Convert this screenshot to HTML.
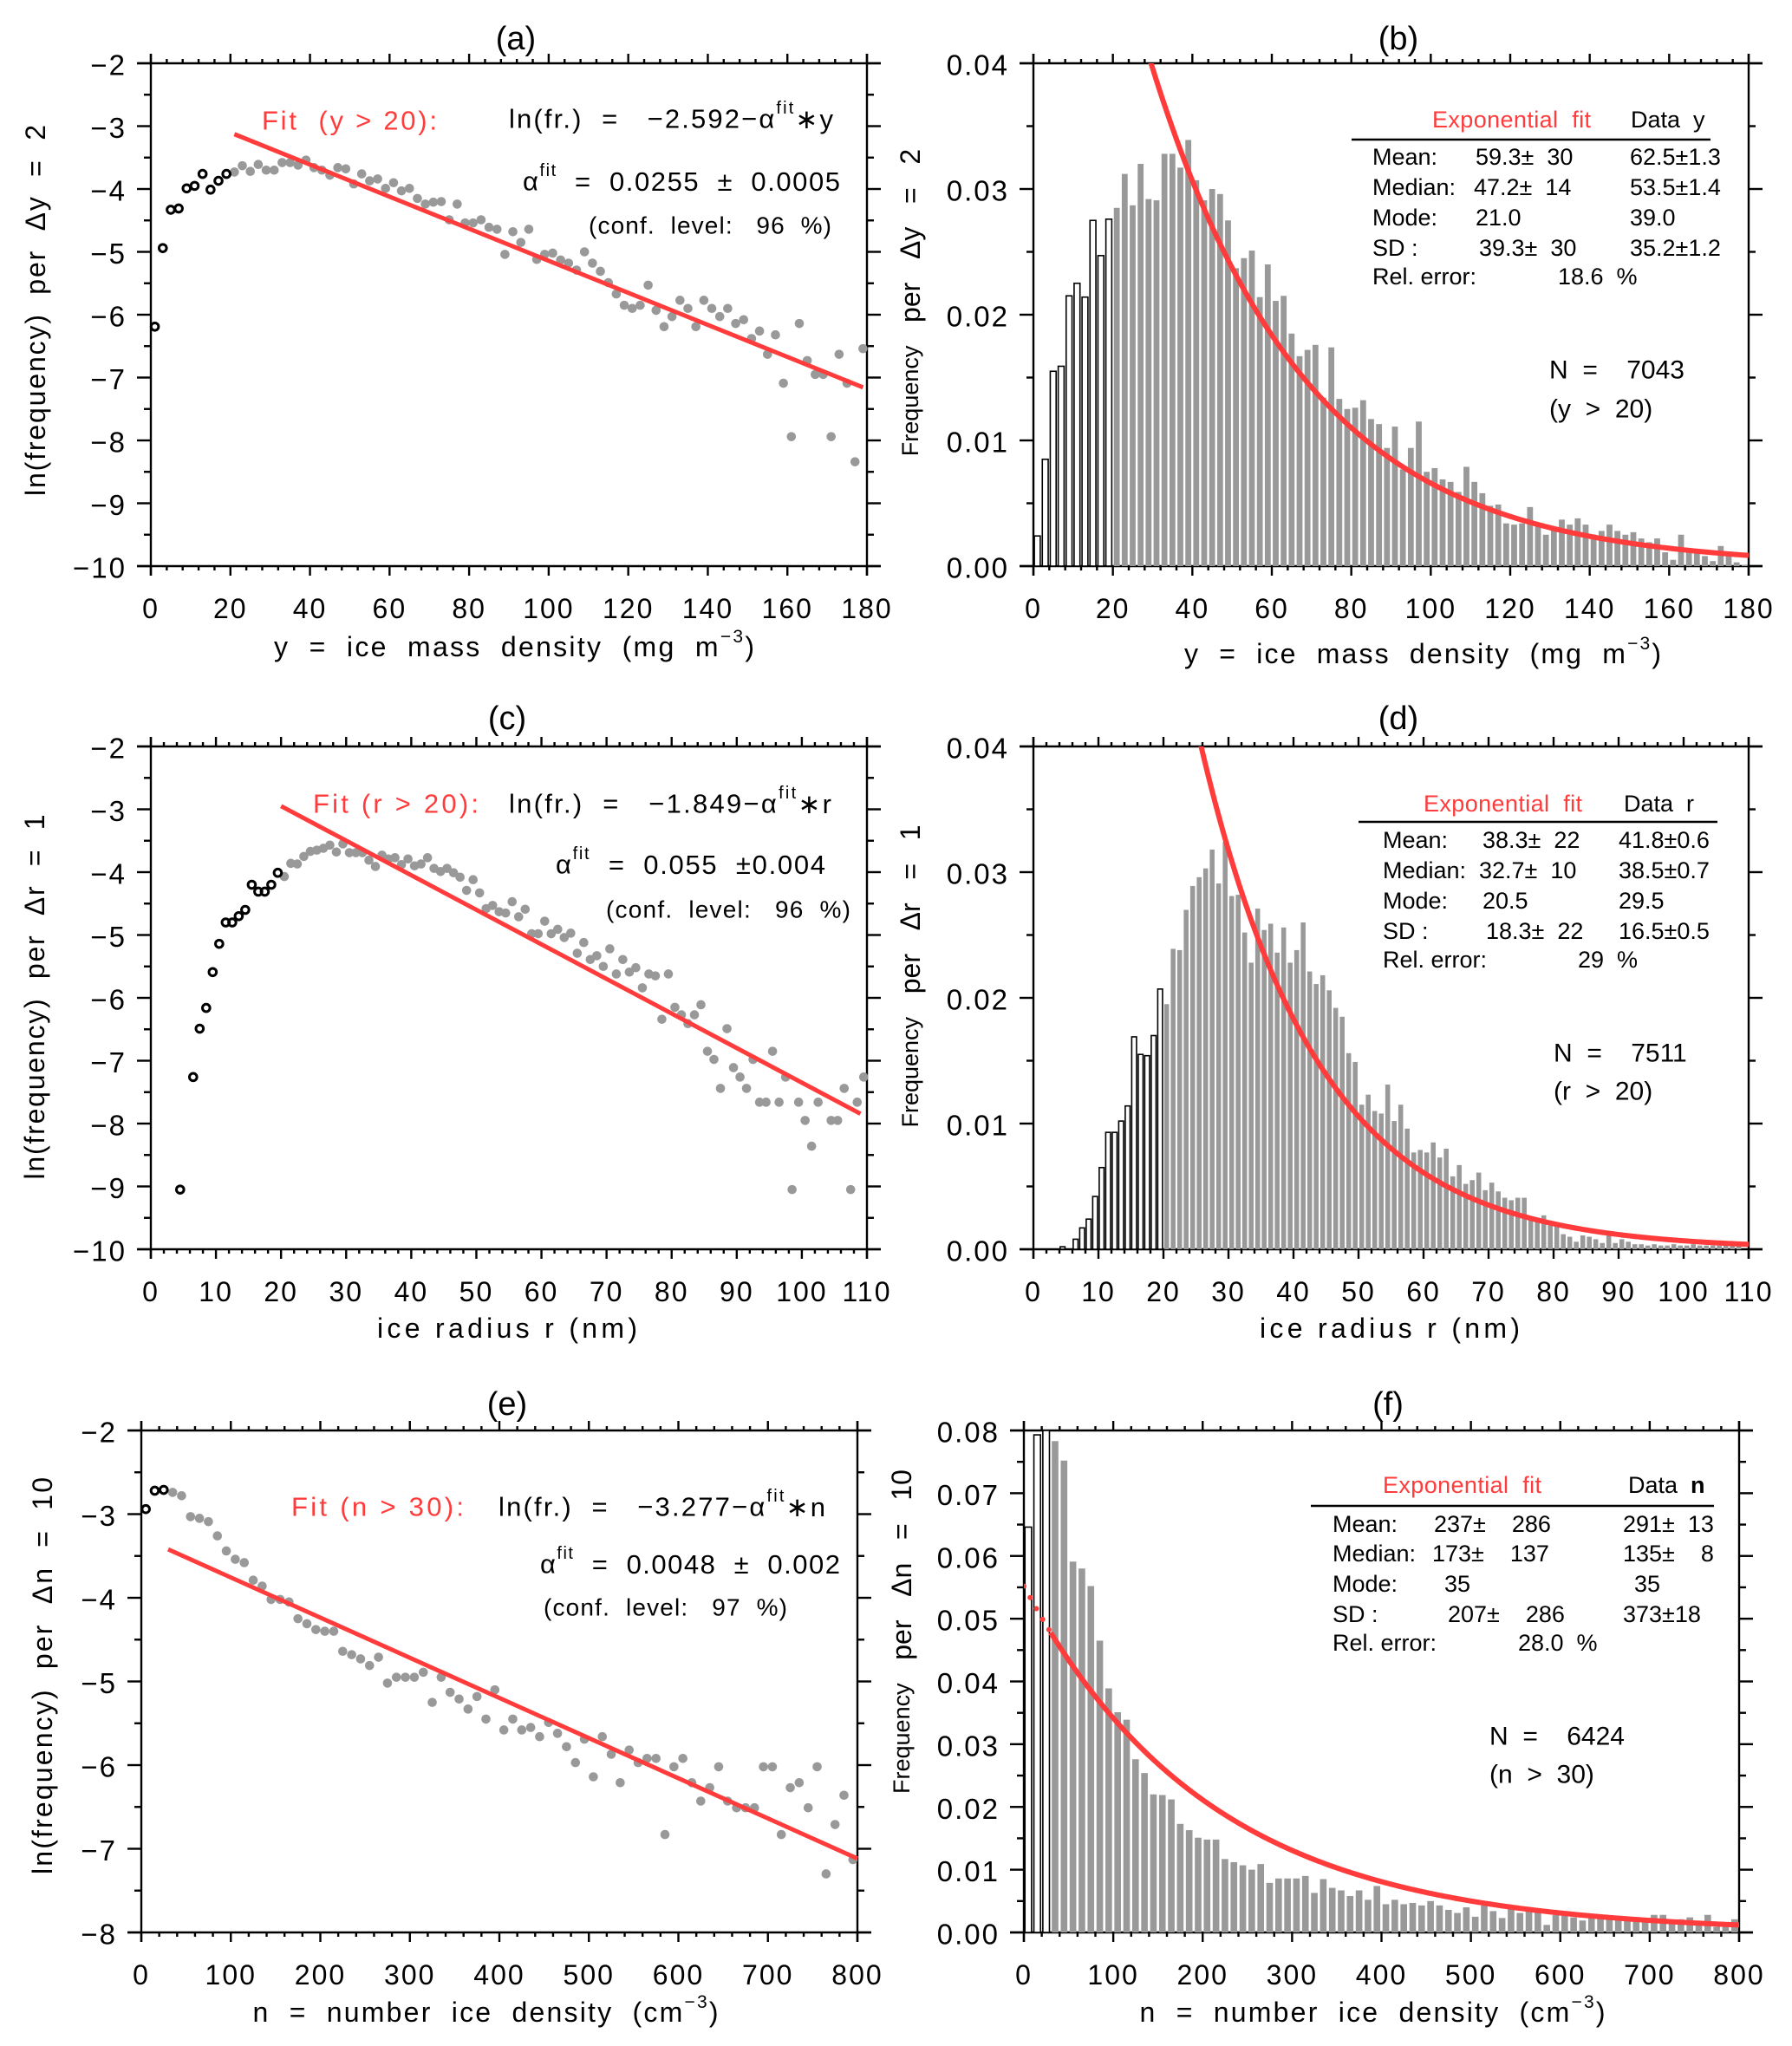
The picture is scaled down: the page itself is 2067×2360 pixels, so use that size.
<!DOCTYPE html>
<html><head><meta charset="utf-8">
<style>
html,body{margin:0;padding:0;background:#fff;}
svg{display:block;}
text{font-family:"Liberation Sans",sans-serif;fill:#000;white-space:pre;}
.red{fill:#ff3b3b;}
</style></head>
<body>
<svg id="fig" xmlns="http://www.w3.org/2000/svg" width="2067" height="2360" viewBox="0 0 2067 2360">
<g id="static">
<text x="595" y="45" font-size="38" text-anchor="middle" dominant-baseline="central">(a)</text>
<text x="1613" y="45" font-size="38" text-anchor="middle" dominant-baseline="central">(b)</text>
<text x="585" y="829" font-size="38" text-anchor="middle" dominant-baseline="central">(c)</text>
<text x="1613" y="829" font-size="38" text-anchor="middle" dominant-baseline="central">(d)</text>
<text x="585" y="1620" font-size="38" text-anchor="middle" dominant-baseline="central">(e)</text>
<text x="1601" y="1620" font-size="38" text-anchor="middle" dominant-baseline="central">(f)</text>

<text x="593" y="746" font-size="32" text-anchor="middle" dominant-baseline="central" textLength="554">y  =  ice  mass  density  (mg  m<tspan dy="-12" font-size="21">−3</tspan><tspan dy="12">)</tspan></text>
<text x="1641" y="754" font-size="32" text-anchor="middle" dominant-baseline="central" textLength="550">y  =  ice  mass  density  (mg  m<tspan dy="-12" font-size="21">−3</tspan><tspan dy="12">)</tspan></text>
<text x="585" y="1532" font-size="32" text-anchor="middle" dominant-baseline="central" textLength="300">ice radius r (nm)</text>
<text x="1603" y="1532" font-size="32" text-anchor="middle" dominant-baseline="central" textLength="300">ice radius r (nm)</text>
<text x="560" y="2321" font-size="32" text-anchor="middle" dominant-baseline="central" textLength="537">n  =  number  ice  density  (cm<tspan dy="-12" font-size="21">−3</tspan><tspan dy="12">)</tspan></text>
<text x="1583" y="2321" font-size="32" text-anchor="middle" dominant-baseline="central" textLength="537">n  =  number  ice  density  (cm<tspan dy="-12" font-size="21">−3</tspan><tspan dy="12">)</tspan></text>

<text transform="translate(41,358) rotate(-90)" font-size="32" text-anchor="middle" dominant-baseline="central" textLength="428">ln(frequency)  per  Δy  =  2</text>
<text transform="translate(1050,349) rotate(-90)" font-size="32" text-anchor="middle" dominant-baseline="central"><tspan font-size="27">Frequency</tspan>   per   Δy   =   2</text>
<text transform="translate(40,1150) rotate(-90)" font-size="32" text-anchor="middle" dominant-baseline="central" textLength="421">ln(frequency)  per  Δr  =  1</text>
<text transform="translate(1050,1126) rotate(-90)" font-size="32" text-anchor="middle" dominant-baseline="central"><tspan font-size="27">Frequency</tspan>   per   Δr   =   1</text>
<text transform="translate(49,1933) rotate(-90)" font-size="32" text-anchor="middle" dominant-baseline="central" textLength="458">ln(frequency)  per  Δn  =  10</text>
<text transform="translate(1040,1882) rotate(-90)" font-size="32" text-anchor="middle" dominant-baseline="central"><tspan font-size="27">Frequency</tspan>   per   Δn   =   10</text>

<text class="red" x="302" y="139" font-size="31" dominant-baseline="central" textLength="202">Fit  (y &gt; 20):</text>
<text x="587" y="137" font-size="31" dominant-baseline="central" textLength="374">ln(fr.)  =   −2.592−α<tspan dy="-12" font-size="20">fit</tspan><tspan dy="12">∗y</tspan></text>
<text x="603" y="209" font-size="31" dominant-baseline="central" textLength="366">α<tspan dy="-12" font-size="20">fit</tspan><tspan dy="12">  =  0.0255  ±  0.0005</tspan></text>
<text x="679" y="260" font-size="28" dominant-baseline="central" textLength="280">(conf.  level:   96  %)</text>

<text class="red" x="361" y="927" font-size="31" dominant-baseline="central" textLength="191">Fit (r &gt; 20):</text>
<text x="587" y="927" font-size="31" dominant-baseline="central" textLength="372">ln(fr.)  =   −1.849−α<tspan dy="-12" font-size="20">fit</tspan><tspan dy="12">∗r</tspan></text>
<text x="641" y="997" font-size="31" dominant-baseline="central" textLength="311">α<tspan dy="-12" font-size="20">fit</tspan><tspan dy="12">  =  0.055  ±0.004</tspan></text>
<text x="699" y="1049" font-size="28" dominant-baseline="central" textLength="282">(conf.  level:   96  %)</text>

<text class="red" x="336" y="1738" font-size="31" dominant-baseline="central" textLength="199">Fit (n &gt; 30):</text>
<text x="575" y="1738" font-size="31" dominant-baseline="central" textLength="377">ln(fr.)  =   −3.277−α<tspan dy="-12" font-size="20">fit</tspan><tspan dy="12">∗n</tspan></text>
<text x="623" y="1804" font-size="31" dominant-baseline="central" textLength="346">α<tspan dy="-12" font-size="20">fit</tspan><tspan dy="12">  =  0.0048  ±  0.002</tspan></text>
<text x="627" y="1854" font-size="28" dominant-baseline="central" textLength="281">(conf.  level:   97  %)</text>

<g font-size="27">
<text class="red" x="1652" y="138" dominant-baseline="central" textLength="183">Exponential  fit</text>
<text x="1881" y="138" dominant-baseline="central">Data  y</text>
<line x1="1559" y1="161" x2="1973" y2="161" stroke="#000" stroke-width="2.5"/>
<text x="1583" y="181" dominant-baseline="central">Mean:</text>
<text x="1702" y="181" dominant-baseline="central">59.3±  30</text>
<text x="1880" y="181" dominant-baseline="central">62.5±1.3</text>
<text x="1583" y="216" dominant-baseline="central">Median:</text>
<text x="1700" y="216" dominant-baseline="central">47.2±  14</text>
<text x="1880" y="216" dominant-baseline="central">53.5±1.4</text>
<text x="1583" y="251" dominant-baseline="central">Mode:</text>
<text x="1702" y="251" dominant-baseline="central">21.0</text>
<text x="1880" y="251" dominant-baseline="central">39.0</text>
<text x="1583" y="286" dominant-baseline="central">SD :</text>
<text x="1706" y="286" dominant-baseline="central">39.3±  30</text>
<text x="1880" y="286" dominant-baseline="central">35.2±1.2</text>
<text x="1583" y="319" dominant-baseline="central">Rel. error:</text>
<text x="1797" y="319" dominant-baseline="central">18.6  %</text>
</g>
<text x="1787" y="427" font-size="30" dominant-baseline="central">N  =    7043</text>
<text x="1787" y="472" font-size="30" dominant-baseline="central">(y  &gt;  20)</text>

<g font-size="27">
<text class="red" x="1642" y="927" dominant-baseline="central" textLength="183">Exponential  fit</text>
<text x="1873" y="927" dominant-baseline="central">Data  r</text>
<line x1="1567" y1="948" x2="1981" y2="948" stroke="#000" stroke-width="2.5"/>
<text x="1595" y="969" dominant-baseline="central">Mean:</text>
<text x="1710" y="969" dominant-baseline="central">38.3±  22</text>
<text x="1867" y="969" dominant-baseline="central">41.8±0.6</text>
<text x="1595" y="1004" dominant-baseline="central">Median:</text>
<text x="1706" y="1004" dominant-baseline="central">32.7±  10</text>
<text x="1867" y="1004" dominant-baseline="central">38.5±0.7</text>
<text x="1595" y="1039" dominant-baseline="central">Mode:</text>
<text x="1710" y="1039" dominant-baseline="central">20.5</text>
<text x="1867" y="1039" dominant-baseline="central">29.5</text>
<text x="1595" y="1074" dominant-baseline="central">SD :</text>
<text x="1714" y="1074" dominant-baseline="central">18.3±  22</text>
<text x="1867" y="1074" dominant-baseline="central">16.5±0.5</text>
<text x="1595" y="1107" dominant-baseline="central">Rel. error:</text>
<text x="1820" y="1107" dominant-baseline="central">29  %</text>
</g>
<text x="1792" y="1215" font-size="30" dominant-baseline="central">N  =    7511</text>
<text x="1792" y="1259" font-size="30" dominant-baseline="central">(r  &gt;  20)</text>

<g font-size="27">
<text class="red" x="1595" y="1713" dominant-baseline="central" textLength="183">Exponential  fit</text>
<text x="1878" y="1713" dominant-baseline="central">Data  <tspan font-weight="bold">n</tspan></text>
<line x1="1512" y1="1737" x2="1977" y2="1737" stroke="#000" stroke-width="2.5"/>
<text x="1537" y="1758" dominant-baseline="central">Mean:</text>
<text x="1654" y="1758" dominant-baseline="central">237±    286</text>
<text x="1872" y="1758" dominant-baseline="central">291±  13</text>
<text x="1537" y="1792" dominant-baseline="central">Median:</text>
<text x="1652" y="1792" dominant-baseline="central">173±    137</text>
<text x="1872" y="1792" dominant-baseline="central">135±    8</text>
<text x="1537" y="1827" dominant-baseline="central">Mode:</text>
<text x="1666" y="1827" dominant-baseline="central">35</text>
<text x="1885" y="1827" dominant-baseline="central">35</text>
<text x="1537" y="1862" dominant-baseline="central">SD :</text>
<text x="1670" y="1862" dominant-baseline="central">207±    286</text>
<text x="1872" y="1862" dominant-baseline="central">373±18</text>
<text x="1537" y="1895" dominant-baseline="central">Rel. error:</text>
<text x="1751" y="1895" dominant-baseline="central">28.0  %</text>
</g>
<text x="1718" y="2003" font-size="30" dominant-baseline="central">N  =    6424</text>
<text x="1718" y="2047" font-size="30" dominant-baseline="central">(n  &gt;  30)</text>
</g>
<g id="dyn"></g>
</svg>
<script>
// ---------- data ----------
const aOpenX = [1,3,5,7,9,11,13,15,17,19];
const aOpenY = [-6.19,-4.94,-4.33,-4.31,-3.99,-3.95,-3.76,-4.01,-3.87,-3.76];
const aX = [21,23,25,27,29,31,33,35,37,39,41,43,45,47,49,51,53,55,57,59,61,63,65,67,69,71,73,75,77,79,81,83,85,87,89,91,93,95,97,99,101,103,105,107,109,111,113,115,117,119,121,123,125,127,129,131,133,135,137,139,141,143,145,147,149,151,153,155,157,159,161,163,165,167,169,171,173,175,177,179];
const aY = [-3.73,-3.63,-3.72,-3.61,-3.70,-3.70,-3.58,-3.58,-3.62,-3.54,-3.66,-3.70,-3.78,-3.66,-3.68,-3.92,-3.76,-3.87,-3.84,-3.99,-3.90,-4.03,-3.99,-4.15,-4.24,-4.21,-4.20,-4.49,-4.24,-4.54,-4.54,-4.49,-4.61,-4.64,-5.04,-4.68,-4.85,-4.64,-5.12,-5.04,-5.02,-5.13,-5.18,-5.29,-5.00,-5.18,-5.31,-5.49,-5.67,-5.85,-5.90,-5.85,-5.53,-5.93,-6.19,-6.03,-5.77,-5.90,-6.19,-5.77,-5.90,-6.03,-5.90,-6.14,-6.08,-6.38,-6.26,-6.63,-6.32,-7.09,-7.94,-6.14,-6.73,-6.95,-6.95,-7.94,-6.63,-7.09,-8.34,-6.54];
const aFit = [-2.592, 0.0255, 21, 179];

const bBinWidth = 2;
const bOpen = [0.0024,0.0085,0.0155,0.0159,0.0215,0.0225,0.0214,0.0275,0.0247,0.0276];
const bBars = [0.0285,0.0312,0.0287,0.0320,0.0292,0.0291,0.0328,0.0328,0.0317,0.0339,0.0307,0.0291,0.0300,0.0296,0.0275,0.0237,0.0245,0.0251,0.0214,0.0240,0.0211,0.0215,0.0185,0.0167,0.0172,0.0176,0.0134,0.0174,0.0133,0.0125,0.0126,0.0132,0.0117,0.0113,0.0094,0.0111,0.0077,0.0094,0.0115,0.0075,0.0078,0.0069,0.0067,0.0059,0.0079,0.0067,0.0058,0.0048,0.0049,0.0034,0.0033,0.0034,0.0047,0.0034,0.0025,0.0031,0.0037,0.0033,0.0038,0.0033,0.0025,0.0028,0.0033,0.0028,0.0025,0.0027,0.0022,0.0019,0.0022,0.0011,0.0005,0.0025,0.0013,0.0012,0.0008,0.0004,0.0016,0.0008,0.0003,0.0001];
const bCurve = [-2.461, 0.0256];

const cOpenX = [4.5,6.5,7.5,8.5,9.5,10.5,11.5,12.5,13.5,14.5,15.5,16.5,17.5,18.5,19.5];
const cOpenY = [-9.05,-7.26,-6.49,-6.16,-5.59,-5.14,-4.80,-4.80,-4.70,-4.60,-4.20,-4.31,-4.31,-4.20,-4.01];
const cX = [20.5,21.5,22.5,23.5,24.5,25.5,26.5,27.5,28.5,29.5,30.5,31.5,32.5,33.5,34.5,35.5,36.5,37.5,38.5,39.5,40.5,41.5,42.5,43.5,44.5,45.5,46.5,47.5,48.5,49.5,50.5,51.5,52.5,53.5,54.5,55.5,56.5,57.5,58.5,59.5,60.5,61.5,62.5,63.5,64.5,65.5,66.5,67.5,68.5,69.5,70.5,71.5,72.5,73.5,74.5,75.5,76.5,77.5,78.5,79.5,80.5,81.5,82.5,83.5,84.5,85.5,86.5,87.5,88.5,89.5,90.5,91.5,92.5,93.5,94.5,95.5,96.5,97.5,98.5,99.5,100.5,101.5,102.5,104.5,105.5,106.5,107.5,108.5,109.5];
const cY = [-4.07,-3.86,-3.87,-3.75,-3.67,-3.65,-3.62,-3.57,-3.68,-3.55,-3.69,-3.69,-3.69,-3.81,-3.91,-3.73,-3.79,-3.77,-3.88,-3.79,-3.90,-3.87,-3.77,-3.94,-3.99,-3.94,-4.01,-4.08,-4.29,-4.12,-4.33,-4.58,-4.53,-4.63,-4.65,-4.47,-4.71,-4.59,-4.98,-4.98,-4.78,-4.98,-4.91,-5.04,-4.97,-5.29,-5.12,-5.39,-5.33,-5.50,-5.22,-5.62,-5.39,-5.59,-5.52,-5.84,-5.62,-5.65,-6.34,-5.62,-6.15,-6.27,-6.41,-6.27,-6.11,-6.85,-6.98,-7.44,-6.49,-7.11,-7.26,-7.44,-6.98,-7.66,-7.66,-6.85,-7.66,-7.26,-9.05,-7.66,-7.95,-8.36,-7.66,-7.95,-7.95,-7.44,-9.05,-7.66,-7.26];
const cFit = [-1.849, 0.055, 20, 109];

const dBinWidth = 1;
const dOpen = [0,0,0,0,0.0002,0,0.0008,0.0017,0.0024,0.0042,0.0065,0.0093,0.0093,0.0102,0.0114,0.0169,0.0155,0.0154,0.0170,0.0207];
const dBars = [0.0195,0.0239,0.0238,0.0270,0.0289,0.0296,0.0303,0.0318,0.0291,0.0324,0.0281,0.0282,0.0252,0.0228,0.0271,0.0254,0.0259,0.0236,0.0256,0.0228,0.0238,0.0260,0.0221,0.0211,0.0218,0.0206,0.0192,0.0185,0.0156,0.0149,0.0115,0.0123,0.0110,0.0108,0.0131,0.0102,0.0115,0.0096,0.0077,0.0079,0.0077,0.0085,0.0073,0.0080,0.0058,0.0067,0.0052,0.0055,0.0061,0.0047,0.0053,0.0046,0.0041,0.0039,0.0041,0.0041,0.0024,0.0022,0.0027,0.0019,0.0018,0.0012,0.0010,0.0006,0.0011,0.0010,0.0008,0.0005,0.0011,0.0005,0.0008,0.0006,0.0004,0.0004,0.0003,0.0004,0.0003,0.0003,0.0004,0.0003,0.0003,0.0004,0.0003,0.0003,0.0003,0.0003,0.0003,0.0003,0.0003];
const dCurve = [-1.80, 0.055];

const eOpenX = [5,15,25];
const eOpenY = [-2.94,-2.72,-2.71];
const eX = [35,45,55,65,75,85,95,105,115,125,135,145,155,165,175,185,195,205,215,225,235,245,255,265,275,285,295,305,315,325,335,345,355,365,375,385,395,405,415,425,435,445,455,465,475,485,495,505,515,525,535,545,555,565,575,585,595,605,615,625,635,645,655,665,675,685,695,705,715,725,735,745,755,765,775,785,795];
const eY = [-2.74,-2.78,-3.03,-3.05,-3.09,-3.26,-3.44,-3.54,-3.58,-3.79,-3.86,-4.02,-4.02,-4.05,-4.25,-4.31,-4.38,-4.40,-4.40,-4.64,-4.68,-4.73,-4.81,-4.71,-5.02,-4.95,-4.95,-4.95,-4.89,-5.25,-4.95,-5.13,-5.21,-5.33,-5.18,-5.45,-5.10,-5.58,-5.45,-5.58,-5.55,-5.66,-5.49,-5.62,-5.78,-5.97,-5.69,-6.14,-5.66,-5.87,-6.21,-5.82,-5.97,-5.92,-5.92,-6.83,-6.02,-5.92,-6.21,-6.43,-6.27,-6.02,-6.43,-6.51,-6.51,-6.51,-6.02,-6.02,-6.83,-6.27,-6.21,-6.51,-6.02,-7.30,-6.71,-6.36,-7.13];
const eFit = [-3.277, 0.0048, 30, 800];

const fBinWidth = 10;
const fOpen = [0.0646,0.0793,0.0800];
const fBars = [0.0783,0.0752,0.0591,0.0580,0.0552,0.0465,0.0389,0.0351,0.0339,0.0276,0.0254,0.0220,0.0219,0.0212,0.0173,0.0163,0.0151,0.0148,0.0148,0.0117,0.0112,0.0107,0.0100,0.0109,0.0079,0.0086,0.0086,0.0086,0.0090,0.0063,0.0085,0.0071,0.0067,0.0058,0.0067,0.0052,0.0074,0.0045,0.0052,0.0045,0.0047,0.0043,0.0050,0.0043,0.0036,0.0031,0.0040,0.0025,0.0043,0.0034,0.0023,0.0038,0.0031,0.0036,0.0033,0.0012,0.0028,0.0028,0.0024,0.0019,0.0025,0.0028,0.0023,0.0021,0.0019,0.0021,0.0019,0.0028,0.0028,0.0019,0.0021,0.0024,0.0017,0.0028,0.0009,0.0014,0.0021];
const fCurve = [-2.897, 0.0048, 30];

const lnTicks = ['−2','−3','−4','−5','−6','−7','−8','−9','−10'];

// ---------- drawing ----------
const NS = 'http://www.w3.org/2000/svg';
const root = document.getElementById('dyn');
function mk(tag, attrs, parent) {
  const el = document.createElementNS(NS, tag);
  for (const k in attrs) el.setAttribute(k, attrs[k]);
  (parent || root).appendChild(el);
  return el;
}
const RED = '#ff3b3b', GRAY = '#999999';

function axes(P) {
  P.sx = v => P.x0 + (v - P.xmin) / (P.xmax - P.xmin) * (P.x1 - P.x0);
  P.sy = v => P.y1 - (v - P.ymin) / (P.ymax - P.ymin) * (P.y1 - P.y0);
  const g = mk('g', {});
  
  
  const st = {stroke: '#000', 'stroke-width': 2.4, fill: 'none'};
  let l;
  l = mk('line', Object.assign({x1: P.x0 - 16, y1: P.y0, x2: P.x1 + 16, y2: P.y0}, st), g);
  
  
  l = mk('line', Object.assign({x1: P.x0 - 16, y1: P.y1, x2: P.x1 + 16, y2: P.y1}, st), g);
  
  
  l = mk('line', Object.assign({x1: P.x0, y1: P.y0 - 11, x2: P.x0, y2: P.y1 + 11}, st), g);
  
  
  l = mk('line', Object.assign({x1: P.x1, y1: P.y0 - 11, x2: P.x1, y2: P.y1 + 11}, st), g);
  
  
  const nx = Math.round((P.xmax - P.xmin) / P.xMinor);
  for (let i = 0; i <= nx; i++) {
    const v = P.xmin + i * P.xMinor;
    const major = Math.abs(v / P.xMajor - Math.round(v / P.xMajor)) < 1e-6;
    const L = major ? 11 : 5;
    const x = P.sx(v);
    l = mk('line', Object.assign({x1: x, y1: P.y0, x2: x, y2: P.y0 - L}, st), g);
    
    
    l = mk('line', Object.assign({x1: x, y1: P.y1, x2: x, y2: P.y1 + L}, st), g);
    
    
    if (major) {
      const t = mk('text', {x: x, y: P.y1 + 49, 'font-size': 32, 'text-anchor': 'middle', 'dominant-baseline': 'central', 'letter-spacing': 2}, g);
      
      
      t.textContent = String(Math.round(v));
    }
  }
  const ny = Math.round((P.ymax - P.ymin) / P.yMinor);
  for (let i = 0; i <= ny; i++) {
    const v = P.ymin + i * P.yMinor;
    const r = v / P.yMajor;
    const major = Math.abs(r - Math.round(r)) < 1e-6;
    const L = major ? 16 : 8;
    const y = P.sy(v);
    l = mk('line', Object.assign({x1: P.x0, y1: y, x2: P.x0 - L, y2: y}, st), g);
    
    
    l = mk('line', Object.assign({x1: P.x1, y1: y, x2: P.x1 + L, y2: y}, st), g);
    
    
    if (major) {
      const t = mk('text', {x: P.x0 - 28, y: y + 2, 'font-size': 33, 'text-anchor': 'end', 'dominant-baseline': 'central', 'letter-spacing': 2}, g);
      
      
      t.textContent = P.yfmt(v);
    }
  }
  const cp = mk('clipPath', {id: 'clip-' + P.id});
  mk('rect', {x: P.x0, y: P.y0, width: P.x1 - P.x0, height: P.y1 - P.y0}, cp);
}
const lnFmt = v => lnTicks[Math.round(-2 - v)];
const frFmt = v => v.toFixed(2);

function scatter(P, ox, oy, gx, gy, fit) {
  const g = mk('g', {});
  
  
  for (let i = 0; i < gx.length; i++) {
    const c = mk('circle', {cx: P.sx(gx[i]), cy: P.sy(gy[i]), r: 5.3, fill: GRAY}, g);
    
    
  }
  for (let i = 0; i < ox.length; i++) {
    const c = mk('circle', {cx: P.sx(ox[i]), cy: P.sy(oy[i]), r: 4.3, fill: 'none', stroke: '#000', 'stroke-width': 3}, g);
    
    
  }
  const ln = mk('line', {x1: P.sx(fit[2]), y1: P.sy(fit[0] - fit[1] * fit[2]), x2: P.sx(fit[3]), y2: P.sy(fit[0] - fit[1] * fit[3]), stroke: RED, 'stroke-width': 5}, g);
  
  
}

function hist(P, bw, open, bars, curve) {
  const g = mk('g', {'clip-path': 'url(#clip-' + P.id + ')'});
  
  
  const all = open.concat(bars);
  const pw = P.sx(bw) - P.sx(0);
  for (let i = 0; i < all.length; i++) {
    const x = P.sx(i * bw) + pw * 0.12;
    const y = P.sy(all[i]);
    const h = P.y1 - y;
    const isOpen = i < open.length;
    const r = mk('rect', {x: x, y: y, width: pw * 0.74, height: Math.max(h, 0.5),
      fill: isOpen ? '#fff' : GRAY, stroke: isOpen ? '#000' : 'none', 'stroke-width': 1.6}, g);
    
    
  }
  const start = curve.length > 2 ? curve[2] : P.xmin;
  let d = '';
  for (let v = start; v <= P.xmax + 1e-9; v += (P.xmax - P.xmin) / 400) {
    const f = Math.exp(curve[0] - curve[1] * v);
    d += (d ? 'L' : 'M') + P.sx(v).toFixed(2) + ',' + P.sy(f).toFixed(2);
  }
  const p = mk('path', {d: d, fill: 'none', stroke: RED, 'stroke-width': 6}, g);
  
  
  if (curve.length > 2) {
    for (let v = 0; v < curve[2]; v += 7) {
      const dot = mk('circle', {cx: P.sx(v), cy: P.sy(Math.exp(curve[0] - curve[1] * v)), r: 3, fill: RED}, g);
      
      
    }
  }
}

const PA = {id: 'a', x0: 174, x1: 1000, y0: 73, y1: 653, xmin: 0, xmax: 180, ymin: -10, ymax: -2, xMajor: 20, xMinor: 4, yMajor: 1, yMinor: 0.5, yfmt: lnFmt};
const PB = {id: 'b', x0: 1192, x1: 2017, y0: 73, y1: 653, xmin: 0, xmax: 180, ymin: 0, ymax: 0.04, xMajor: 20, xMinor: 4, yMajor: 0.01, yMinor: 0.005, yfmt: frFmt};
const PC = {id: 'c', x0: 174, x1: 1000, y0: 861, y1: 1441, xmin: 0, xmax: 110, ymin: -10, ymax: -2, xMajor: 10, xMinor: 2, yMajor: 1, yMinor: 0.5, yfmt: lnFmt};
const PD = {id: 'd', x0: 1192, x1: 2017, y0: 861, y1: 1441, xmin: 0, xmax: 110, ymin: 0, ymax: 0.04, xMajor: 10, xMinor: 2, yMajor: 0.01, yMinor: 0.005, yfmt: frFmt};
const PE = {id: 'e', x0: 163, x1: 989, y0: 1650, y1: 2229, xmin: 0, xmax: 800, ymin: -8, ymax: -2, xMajor: 100, xMinor: 20, yMajor: 1, yMinor: 0.5, yfmt: lnFmt};
const PF = {id: 'f', x0: 1181, x1: 2006, y0: 1650, y1: 2229, xmin: 0, xmax: 800, ymin: 0, ymax: 0.08, xMajor: 100, xMinor: 20, yMajor: 0.01, yMinor: 0.005, yfmt: frFmt};

[PA, PB, PC, PD, PE, PF].forEach(axes);
scatter(PA, aOpenX, aOpenY, aX, aY, aFit);
scatter(PC, cOpenX, cOpenY, cX, cY, cFit);
scatter(PE, eOpenX, eOpenY, eX, eY, eFit);
hist(PB, bBinWidth, bOpen, bBars, bCurve);
hist(PD, dBinWidth, dOpen, dBars, dCurve);
hist(PF, fBinWidth, fOpen, fBars, fCurve);
</script>
</body></html>
